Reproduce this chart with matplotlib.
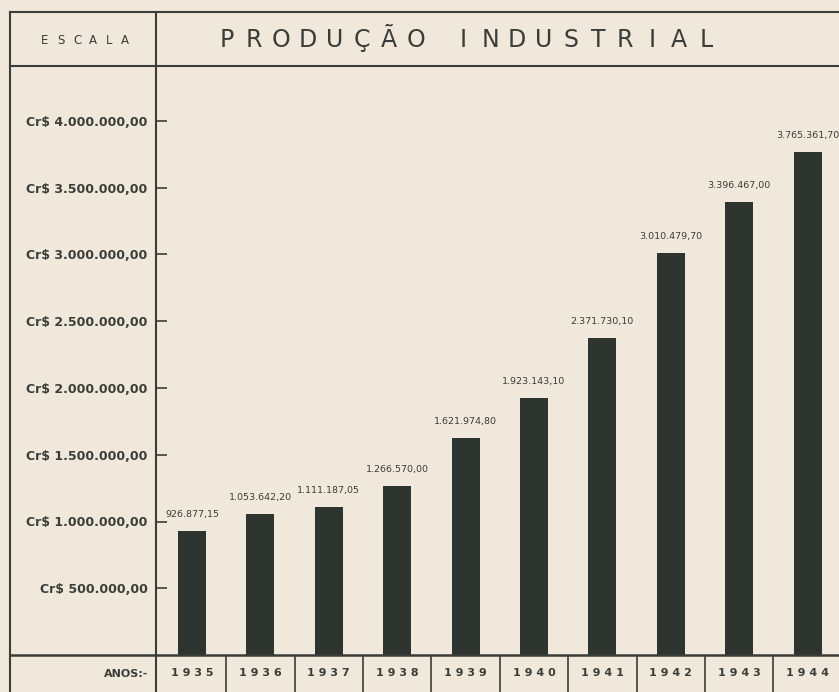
import matplotlib
matplotlib.use('Agg')
import matplotlib.pyplot as plt
from matplotlib.lines import Line2D

years = ['1935', '1936', '1937', '1938', '1939', '1940', '1941', '1942', '1943', '1944']
values = [926877.15, 1053642.20, 1111187.05, 1266570.00, 1621974.80,
          1923143.10, 2371730.10, 3010479.70, 3396467.00, 3765361.70]
value_labels = ['926.877,15', '1.053.642,20', '1.111.187,05', '1.266.570,00', '1.621.974,80',
                '1.923.143,10', '2.371.730,10', '3.010.479,70', '3.396.467,00', '3.765.361,70']
yticks = [500000, 1000000, 1500000, 2000000, 2500000, 3000000, 3500000, 4000000]
ytick_labels = ['Cr$ 500.000,00', 'Cr$ 1.000.000,00', 'Cr$ 1.500.000,00', 'Cr$ 2.000.000,00',
                'Cr$ 2.500.000,00', 'Cr$ 3.000.000,00', 'Cr$ 3.500.000,00', 'Cr$ 4.000.000,00']
title_words = ['PRODUÇÃO', 'INDUSTRIAL']

paper = '#f0e8db'
ink = '#3a3d38'
bar_c = '#2e3430'

W, H = 839, 692
def fx(px):
    return px / W
def fy(py):
    return 1 - py / H

plt.rcParams['font.family'] = ['DejaVu Sans']

fig = plt.figure(figsize=(8.39, 6.92), dpi=100)
fig.patch.set_facecolor(paper)

# main plot area
px_per_unit = 68.4
xl = (-(192 - 156) / px_per_unit, (839 - 192) / px_per_unit)
ax = fig.add_axes([fx(156), fy(655), fx(839) - fx(156), fy(66) - fy(655)])
ax.set_facecolor('none')
x = list(range(len(years)))
ax.bar(x, values, width=0.41, color=bar_c)
for i, v in enumerate(values):
    ax.text(i, v + 90000, value_labels[i], ha='center', va='bottom', fontsize=6.8, color=ink)
ax.set_xlim(*xl)
ax.set_ylim(0, (655 - 66) / 133.5 * 1e6)
ax.set_xticks([])
ax.set_yticks(yticks)
ax.set_yticklabels(ytick_labels, fontsize=9, fontweight='bold', color=ink)
ax.tick_params(axis='y', direction='in', length=8, width=1.2, color=ink, pad=6)
for s in ax.spines.values():
    s.set_visible(False)

# year row
ax2 = fig.add_axes([fx(156), 0, fx(839) - fx(156), fy(655)])
ax2.set_facecolor('none')
ax2.set_xlim(*xl)
ax2.set_ylim(0, 1)
ax2.axis('off')
for i in range(len(years) - 1):
    ax2.axvline(i + 0.5, color=ink, lw=1.2)
for i, yr in enumerate(years):
    ax2.text(i, 0.5, ' '.join(yr), ha='center', va='center', fontsize=8, fontweight='bold', color=ink)

# frame lines
def hline(py, x0=10, x1=839, lw=1.5):
    fig.add_artist(Line2D([fx(x0), fx(x1)], [fy(py), fy(py)], color=ink, lw=lw))
def vline(px, y0=12, y1=692, lw=1.5):
    fig.add_artist(Line2D([fx(px), fx(px)], [fy(y0), fy(y1)], color=ink, lw=lw))

hline(12)
hline(66)
hline(655, lw=1.8)
vline(10)
vline(156)

# header texts, letter-spaced
for k, ch in enumerate('ESCALA'):
    fig.text(fx(45 + k * 16), fy(40), ch, ha='center', va='center', fontsize=8.5, color=ink)
for start, word in zip([227, 463], title_words):
    for k, ch in enumerate(word):
        fig.text(fx(start + k * 27), fy(40), ch, ha='center', va='center', fontsize=17, color=ink)
fig.text(fx(148), fy(674), 'ANOS:-', ha='right', va='center', fontsize=8, fontweight='bold', color=ink)

fig.savefig('out.png', dpi=100, facecolor=paper)
